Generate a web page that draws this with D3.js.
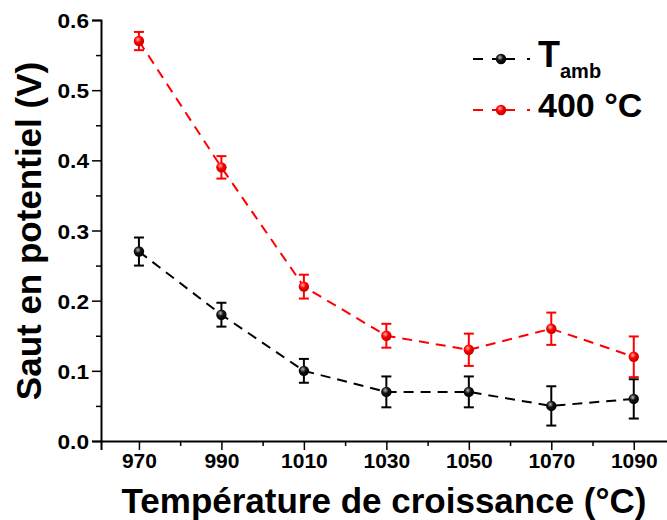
<!DOCTYPE html>
<html><head><meta charset="utf-8">
<script src="https://cdn.jsdelivr.net/npm/d3@7"></script>
<style>body{margin:0;background:#fff}svg{display:block}text{font-family:"Liberation Sans",Arial,sans-serif;font-weight:bold}</style>
</head><body><svg id="c" width="667" height="520"></svg>
<script>
const temps = [970, 990, 1010, 1030, 1050, 1070, 1090];
const ambVals = [0.27, 0.18, 0.10, 0.07, 0.07, 0.05, 0.06];
const ambErr = [0.02, 0.017, 0.017, 0.022, 0.022, 0.028, 0.028];
const hotVals = [0.57, 0.39, 0.22, 0.15, 0.13, 0.16, 0.12];
const hotErr = [0.013, 0.016, 0.017, 0.017, 0.023, 0.023, 0.029];
const yTicks = [0.0, 0.1, 0.2, 0.3, 0.4, 0.5, 0.6];
const yMinorTicks = [0.05, 0.15, 0.25, 0.35, 0.45, 0.55];
const xTicks = [970, 990, 1010, 1030, 1050, 1070, 1090];
const xMinorTicks = [980, 1000, 1020, 1040, 1060, 1080, 1100];

const svg = d3.select("#c");
const x = d3.scaleLinear().domain([960.8, 1100]).range([101, 675]);
const y = d3.scaleLinear().domain([0, 0.6]).range([441, 20]);

const defs = svg.append("defs");
function grad(id, light, base, dark){
  const g = defs.append("radialGradient").attr("id", id).attr("cx","40%").attr("cy","35%").attr("r","65%");
  g.append("stop").attr("offset","0%").attr("stop-color",light);
  g.append("stop").attr("offset","45%").attr("stop-color",base);
  g.append("stop").attr("offset","100%").attr("stop-color",dark);
}
grad("gb", "#bbbbbb", "#111111", "#000000");
grad("gr", "#ffb0b0", "#ff0000", "#c00000");

const yAxis = d3.axisLeft(y).tickValues(yTicks).tickFormat(d3.format(".1f")).tickSize(9).tickPadding(2);
const yMinor = d3.axisLeft(y).tickValues(yMinorTicks).tickSize(5).tickFormat("");
const xAxis = d3.axisBottom(x).tickValues(xTicks).tickFormat(d3.format("d")).tickSize(9).tickPadding(3);
const xMinor = d3.axisBottom(x).tickValues(xMinorTicks).tickSize(5).tickFormat("");

function style(g){
  g.select(".domain").attr("stroke","#000").attr("stroke-width",2);
  g.selectAll(".tick line").attr("stroke","#000").attr("stroke-width",1.5);
  g.selectAll("text").attr("font-size",21).attr("fill","#000").style("font-size","21px");
}
svg.append("g").attr("transform","translate(101,0)").call(yMinor).call(style).select(".domain").remove();
svg.append("g").attr("transform","translate(0,441)").call(xMinor).call(style).select(".domain").remove();
const gy = svg.append("g").attr("transform","translate(101,0)").call(yAxis).call(style);
const gx = svg.append("g").attr("transform","translate(0,441)").call(xAxis).call(style);
gy.selectAll("text").attr("dy","0.36em").attr("transform","scale(1.08,1)").attr("x",-12/1.08);
gx.selectAll("text").attr("dy","0.71em");

// titles
svg.append("text").attr("x",384).attr("y",513).attr("text-anchor","middle").style("font-size","35px").text("Température de croissance (°C)");
svg.append("text").attr("transform","translate(41,231) rotate(-90)").attr("text-anchor","middle").style("font-size","35px").text("Saut en potentiel (V)");

function series(vals, errs, color, gid){
  const line = d3.line().x((d,i)=>x(temps[i])).y(d=>y(d));
  svg.append("path").attr("d", line(vals)).attr("fill","none").attr("stroke",color).attr("stroke-width",2).attr("stroke-dasharray","10,7");
  const g = svg.append("g");
  vals.forEach((v,i)=>{
    const cx = x(temps[i]);
    const e = errs[i];
    g.append("line").attr("x1",cx).attr("x2",cx).attr("y1",y(v+e)).attr("y2",y(v-e)).attr("stroke",color).attr("stroke-width",2);
    [v+e, v-e].forEach(t=>g.append("line").attr("x1",cx-5).attr("x2",cx+5).attr("y1",y(t)).attr("y2",y(t)).attr("stroke",color).attr("stroke-width",2));
    g.append("circle").attr("cx",cx).attr("cy",y(v)).attr("r",5.2).attr("fill",`url(#${gid})`);
  });
}
series(ambVals, ambErr, "#000", "gb");
series(hotVals, hotErr, "#ff0000", "gr");

// legend
function legItem(yy, color, gid){
  svg.append("line").attr("x1",473).attr("x2",530).attr("y1",yy).attr("y2",yy).attr("stroke",color).attr("stroke-width",2).attr("stroke-dasharray","10,9,23,12,3");
  svg.append("circle").attr("cx",501).attr("cy",yy).attr("r",5.2).attr("fill",`url(#${gid})`);
}
legItem(59, "#000", "gb");
legItem(110, "#ff0000", "gr");
const t1 = svg.append("text").attr("x",538).attr("y",67).style("font-size","36px");
t1.append("tspan").text("T");
t1.append("tspan").style("font-size","20px").attr("dy",11).text("amb");
svg.append("text").attr("x",538).attr("y",117).style("font-size","34px").text("400 °C");
</script></body></html>
